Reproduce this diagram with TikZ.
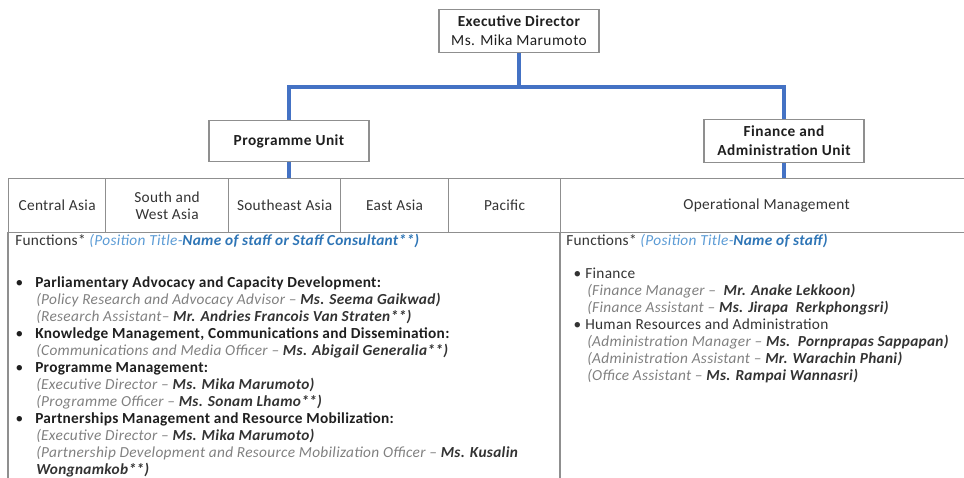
\documentclass[tikz,border=0pt]{standalone}
\usepackage{fontspec}
\setmainfont{Carlito}
\usetikzlibrary{positioning}

\definecolor{linkblue}{HTML}{4472C4}
\definecolor{boxgray}{HTML}{8F8F8F}
\definecolor{rolegray}{HTML}{808080}
\definecolor{namedark}{HTML}{333333}
\definecolor{headdark}{HTML}{1F1F1F}
\definecolor{hintblue}{HTML}{5B9BD5}
\definecolor{nameblue}{HTML}{2E75B6}

\newcommand{\bul}[1][17.25pt]{\makebox[#1][l]{\hspace{2.5pt}\textbullet}}
\newcommand{\ind}[1][18pt]{\hspace{#1}}
\newcommand{\role}[2]{{\color{rolegray}\itshape(#1} {\color{namedark}\bfseries\itshape#2)}}

\begin{document}
\begin{tikzpicture}[x=0.75pt,y=-0.75pt,
  font=\fontsize{11.5}{12.75}\selectfont\addfontfeature{LetterSpace=2},
  unitbox/.style={shape=rectangle, draw=boxgray, line width=1pt, fill=white, align=center,
    font=\fontsize{11.5}{14}\selectfont\bfseries\addfontfeature{LetterSpace=3}, text=headdark, minimum width=120pt, minimum height=32pt},
  link/.style={draw=linkblue, line width=2.3pt},
  cellbox/.style={shape=rectangle, draw=boxgray, line width=0.9pt, align=center, inner sep=0pt,
    text=namedark, minimum height=40.5pt, anchor=north west},
  listtext/.style={align=left, inner sep=0pt, anchor=north west, text=headdark}]

\useasboundingbox (0,0) rectangle (964,478);

% unit boxes
\node[unitbox] (exec) at (519,31) {Executive Director\\\mdseries Ms. Mika Marumoto};
\node[unitbox, minimum height=31pt] (prog) at (289,141) {Programme Unit};
\node[unitbox] (fin) at (784,141) {Finance and\\Administration Unit};

% table header
\foreach \cx/\cw/\ctext [count=\i] in {8/97/Central Asia, 105/123/{South and\\West Asia},
    228/112/Southeast Asia, 340/108/East Asia, 448/112/Pacific, 560/412/Operational Management}
  \node[cellbox, minimum width=\cw*0.75pt] (cell\i) at (\cx,178) {\ctext};

% table body
\draw[draw=boxgray, line width=0.9pt] (8,232) -- (8,490) (560,232) -- (560,490);

% connectors
\coordinate (split) at (exec.south |- 0,87);
\coordinate (progtop) at (prog.south |- cell1.north);
\coordinate (fintop) at (fin.south |- cell1.north);
\draw[link] (exec.south) -- (split);
\draw[link] (prog.north) |- (split) -| (fin.north);
\draw[link] (prog.south) -- (progtop);
\draw[link] (fin.south) -- (fintop);

% programme functions
\node[listtext, anchor=west] (proghead) at (15,241) {{\color{namedark}Functions*} {\color{hintblue}\itshape(Position Title-}{\color{nameblue}\bfseries\itshape Name of staff or Staff Consultant**)}};
\node[listtext] (progfun) at (12,276) {%
\bul\textbf{Parliamentary Advocacy and Capacity Development:}\\
\ind\role{Policy Research and Advocacy Advisor –}{Ms. Seema Gaikwad}\\
\ind\role{Research Assistant–}{Mr. Andries Francois Van Straten**}\\
\bul\textbf{Knowledge Management, Communications and Dissemination:}\\
\ind\role{Communications and Media Officer –}{Ms. Abigail Generalia**}\\
\bul\textbf{Programme Management:}\\
\ind\role{Executive Director –}{Ms. Mika Marumoto}\\
\ind\role{Programme Officer –}{Ms. Sonam Lhamo**}\\
\bul\textbf{Partnerships Management and Resource Mobilization:}\\
\ind\role{Executive Director –}{Ms. Mika Marumoto}\\
\ind{\color{rolegray}\itshape(Partnership Development and Resource Mobilization Officer –} {\color{namedark}\bfseries\itshape Ms. Kusalin}\\
\ind{\color{namedark}\bfseries\itshape Wongnamkob**)}};

% finance functions
\node[listtext, anchor=west] (finhead) at (566,241) {{\color{namedark}Functions*} {\color{hintblue}\itshape(Position Title-}{\color{nameblue}\bfseries\itshape Name of staff)}};
\node[listtext, text=namedark] (finfun) at (570,268) {%
\bul[11.25pt]Finance\\
\ind[12.75pt]\role{Finance Manager – }{Mr. Anake Lekkoon}\\
\ind[12.75pt]\role{Finance Assistant –}{Ms. Jirapa\ \ Rerkphongsri}\\
\bul[11.25pt]Human Resources and Administration\\
\ind[12.75pt]\role{Administration Manager –}{Ms.\ \ Pornprapas Sappapan}\\
\ind[12.75pt]\role{Administration Assistant –}{Mr. Warachin Phani}\\
\ind[12.75pt]\role{Office Assistant –}{Ms. Rampai Wannasri}};
\end{tikzpicture}
\end{document}
